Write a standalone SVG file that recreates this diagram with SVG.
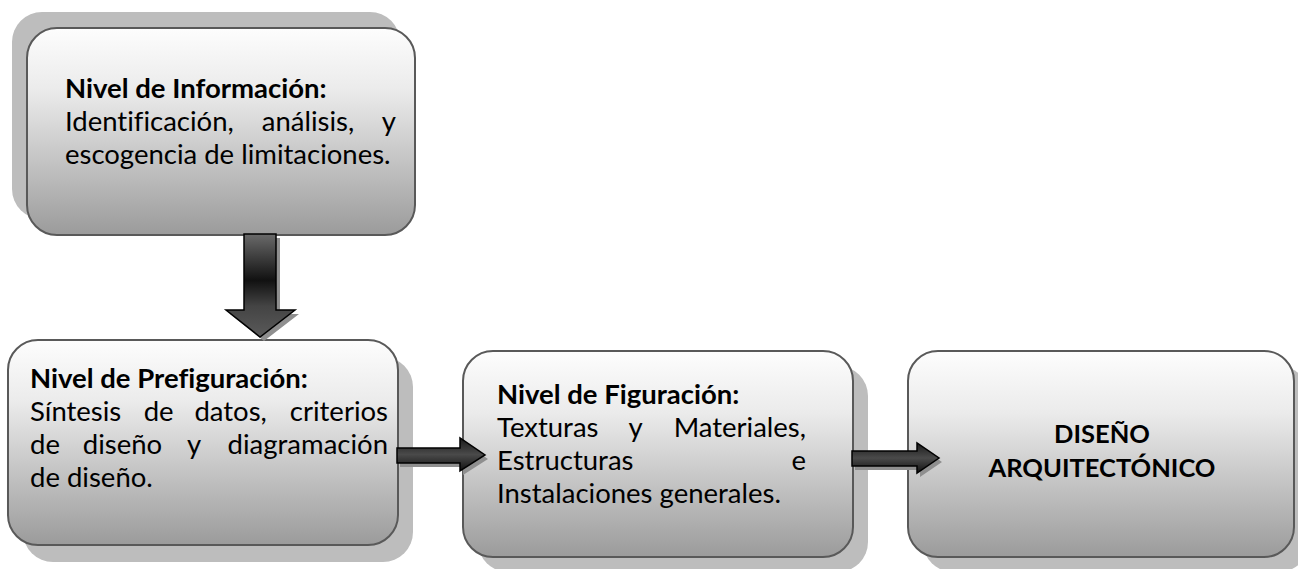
<svg xmlns="http://www.w3.org/2000/svg" width="1298" height="569" viewBox="0 0 1298 569">
<defs>
<linearGradient id="boxg" x1="0" y1="0" x2="0" y2="1">
<stop offset="0" stop-color="#fdfdfd"/>
<stop offset="0.3" stop-color="#ebebeb"/>
<stop offset="1" stop-color="#9b9b9b"/>
</linearGradient>
<linearGradient id="downg" x1="0" y1="234" x2="0" y2="337" gradientUnits="userSpaceOnUse">
<stop offset="0" stop-color="#6a6a6a"/>
<stop offset="0.45" stop-color="#111"/>
<stop offset="0.7" stop-color="#444"/>
<stop offset="1" stop-color="#5a5a5a"/>
</linearGradient>
<linearGradient id="rightg" x1="0" y1="0" x2="0" y2="1">
<stop offset="0" stop-color="#1a1a1a"/>
<stop offset="0.5" stop-color="#4a4a4a"/>
<stop offset="1" stop-color="#111"/>
</linearGradient>
<style>
.shadow{fill:#bdbdbd}
.box{fill:url(#boxg);stroke:#595959;stroke-width:2}
.t{font-family:Lato,"Liberation Sans",sans-serif;font-size:27.5px;fill:#000;font-variant-ligatures:none}
.b{font-weight:bold}
.c{font-size:25.5px}
.ash{fill:#8f8f8f}
.arr{stroke:#000;stroke-width:1.5;stroke-linejoin:miter}
</style>
</defs>

<g id="node-informacion">
<rect class="shadow" x="12" y="12" width="388" height="207" rx="30"/>
<rect class="box" x="27" y="28" width="388" height="207" rx="30"/>
<text class="t b" x="65" y="98">Nivel de Información:</text>
<text class="t" y="131"><tspan x="65">Identificación,</tspan><tspan x="308" text-anchor="middle">análisis,</tspan><tspan x="396" text-anchor="end">y</tspan></text>
<text class="t" x="65" y="164">escogencia de limitaciones.</text>
</g>

<g id="node-prefiguracion">
<rect class="shadow" x="23" y="357" width="390" height="205" rx="30"/>
<rect class="box" x="8" y="340" width="390" height="205" rx="30"/>
<text class="t b" x="30" y="388">Nivel de Prefiguración:</text>
<text class="t" y="421"><tspan x="30">Síntesis</tspan><tspan x="158.6" text-anchor="middle">de</tspan><tspan x="230.6" text-anchor="middle">datos,</tspan><tspan x="388" text-anchor="end">criterios</tspan></text>
<text class="t" y="454"><tspan x="30">de</tspan><tspan x="122.5" text-anchor="middle">diseño</tspan><tspan x="194" text-anchor="middle">y</tspan><tspan x="388" text-anchor="end">diagramación</tspan></text>
<text class="t" x="30" y="487">de diseño.</text>
</g>

<g id="node-figuracion">
<rect class="shadow" x="478" y="366" width="390" height="206" rx="30"/>
<rect class="box" x="463" y="351" width="390" height="206" rx="30"/>
<text class="t b" x="497" y="404">Nivel de Figuración:</text>
<text class="t" y="437"><tspan x="497">Texturas</tspan><tspan x="635.5" text-anchor="middle">y</tspan><tspan x="806" text-anchor="end">Materiales,</tspan></text>
<text class="t" y="470"><tspan x="497">Estructuras</tspan><tspan x="806" text-anchor="end">e</tspan></text>
<text class="t" x="497" y="503">Instalaciones generales.</text>
</g>

<g id="node-diseno">
<rect class="shadow" x="923" y="366" width="386" height="206" rx="30"/>
<rect class="box" x="908" y="351" width="386" height="206" rx="30"/>
<text class="t b c" x="1102" y="443" text-anchor="middle">DISEÑO</text>
<text class="t b c" x="1102" y="477" text-anchor="middle">ARQUITECTÓNICO</text>
</g>

<g id="connectors">
<polygon class="ash" points="248,238 280,238 280,314 299,314 264,341 230,314 248,314"/>
<polygon class="arr" fill="url(#downg)" points="244,234 276,234 276,310 295,310 260,337 226,310 244,310"/>
<polygon class="ash" points="400,452 463,452 463,442 488,459 463,475 463,467 400,467"/>
<polygon class="arr" fill="url(#rightg)" points="397,448 460,448 460,438 485,455 460,471 460,463 397,463"/>
<polygon class="ash" points="855,455 920,455 920,447 942,462 920,477 920,470 855,470"/>
<polygon class="arr" fill="url(#rightg)" points="852,451 917,451 917,443 939,458 917,473 917,466 852,466"/>
</g>
</svg>
